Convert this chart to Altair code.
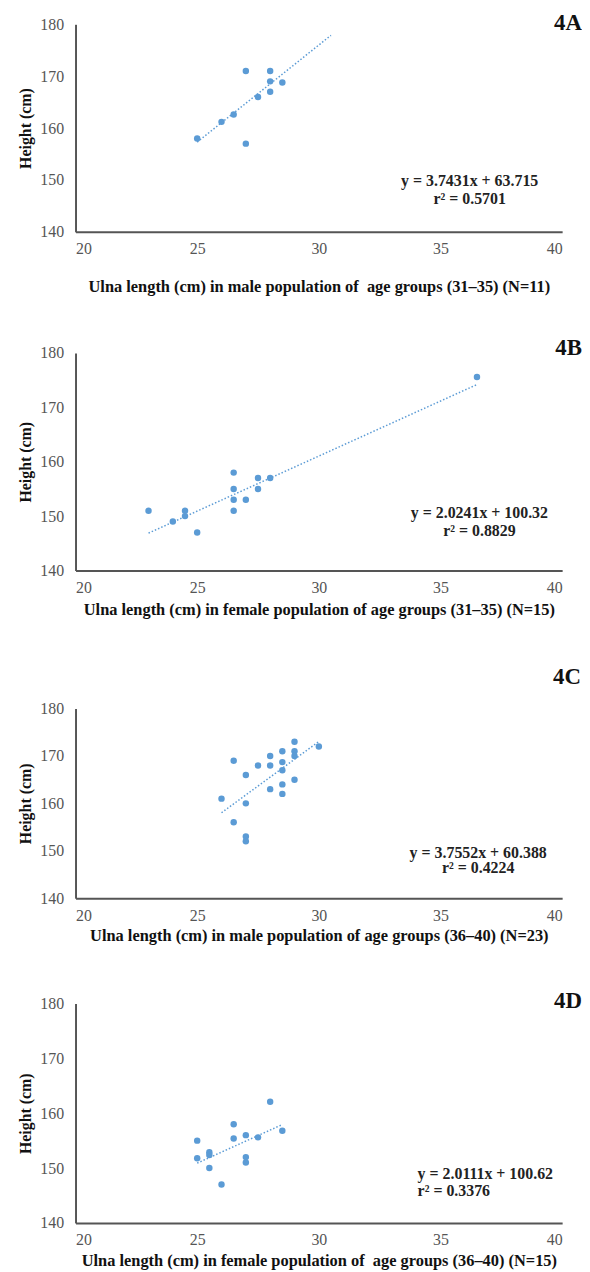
import altair as alt
import pandas as pd

# ---- data ----
A_x = [25, 26, 26.5, 27, 27, 27.5, 28, 28, 28, 28.5]
A_y = [158, 161.2, 162.6, 171, 157, 166, 171, 169, 167, 168.8]

B_x = [23, 24, 24.5, 24.5, 25, 26.5, 26.5, 26.5, 26.5, 27, 27.5, 27.5, 28, 36.5]
B_y = [151, 149, 151, 150, 147, 158, 155, 153, 151, 153, 157, 155, 157, 175.6]

C_x = [26, 26.5, 26.5, 27, 27, 27, 27, 27.5, 28, 28, 28, 28.5, 28.5, 28.5, 28.5, 28.5, 29, 29, 29, 29, 30]
C_y = [161, 169, 156, 166, 160, 153, 152, 168, 170, 168, 163, 171, 168.7, 167, 164, 162, 173, 171, 170, 165, 172]

D_x = [25, 25, 25.5, 25.5, 25.5, 26, 26.5, 26.5, 27, 27, 27, 27.5, 28, 28.5]
D_y = [155, 151.8, 152.9, 152.4, 150, 147, 158, 155.4, 156, 152, 151, 155.6, 162.1, 156.8]

slopes = [3.7431, 2.0241, 3.7552, 2.0111]
intercepts = [63.715, 100.32, 60.388, 100.62]
trend_from = [25, 23, 26, 25]
trend_to = [30.5, 36.5, 30, 28.5]
equations = ["y = 3.7431x + 63.715", "y = 2.0241x + 100.32", "y = 3.7552x + 60.388", "y = 2.0111x + 100.62"]
r2_texts = ["r² = 0.5701", "r² = 0.8829", "r² = 0.4224", "r² = 0.3376"]
titles = [
    "Ulna length (cm) in male population of\u00a0 age groups (31\u201335) (N=11)",
    "Ulna length (cm) in female population of age groups (31\u201335) (N=15)",
    "Ulna length (cm) in male population of age groups (36\u201340) (N=23)",
    "Ulna length (cm) in female population of\u00a0 age groups (36\u201340) (N=15)",
]
tags = ["4A", "4B", "4C", "4D"]
x_ticks = [20, 25, 30, 35, 40]
y_ticks = [140, 150, 160, 170, 180]

# layout: each panel block height, and the plot (axis) height inside it, at the block bottom
eq_pos = [(36.2, 149.8, 146.3, "center"), (36.6, 150.5, 147.3, "center"),
          (36.55, 149.5, 146.3, "center"), (34.06, 148.9, 145.8, "left")]
block_h = [209, 341, 330, 327]
plot_h = [209, 219, 191, 221]
tag_dy = [6, 2, -25, 5]          # tag baseline relative to plot top
tag_x = [510, 510, 509, 510]
xtitle_pad = [22, 6, 5, 5]

FONT = "Liberation Serif"
BLUE = "#5B9BD5"
W = 490


def panel(i, xs, ys):
    H = block_h[i]
    top = H - plot_h[i]
    pts = pd.DataFrame({"x": xs, "y": ys})
    xsc = alt.Scale(domain=[20, 40], nice=False, zero=False)
    ysc = alt.Scale(domain=[140, 180], nice=False, zero=False, range=[H, top])
    xax = alt.Axis(values=x_ticks, title=titles[i], titlePadding=xtitle_pad[i])
    yax = alt.Axis(values=y_ticks, title="Height (cm)")
    points = alt.Chart(pts).mark_circle(size=42, opacity=1, color=BLUE).encode(
        x=alt.X("x:Q", scale=xsc, axis=xax),
        y=alt.Y("y:Q", scale=ysc, axis=yax),
    )
    x0, x1 = trend_from[i], trend_to[i]
    tl = pd.DataFrame({"x": [x0, x1],
                       "y": [slopes[i] * x0 + intercepts[i], slopes[i] * x1 + intercepts[i]]})
    line = alt.Chart(tl).mark_line(color=BLUE, strokeWidth=1.5, strokeDash=[1.5, 2]).encode(
        x=alt.X("x:Q", scale=xsc), y=alt.Y("y:Q", scale=ysc))
    ex, ey1, ey2, al = eq_pos[i]
    eq = pd.DataFrame({"x": [ex, ex], "y": [ey1, ey2], "t": [equations[i], r2_texts[i]]})
    eqt = alt.Chart(eq).mark_text(font=FONT, fontSize=16, fontWeight="bold", color="#222",
                                  align=al, baseline="middle").encode(
        x=alt.X("x:Q", scale=xsc), y=alt.Y("y:Q", scale=ysc), text="t:N")
    tag = alt.Chart(pd.DataFrame({"t": [tags[i]]})).mark_text(
        font=FONT, fontSize=23, fontWeight="bold", color="#111", align="right",
        baseline="alphabetic").encode(x=alt.value(tag_x[i]), y=alt.value(top + tag_dy[i]), text="t:N")
    return alt.layer(line, points, eqt, tag).properties(width=W, height=H)


pA = panel(0, A_x, A_y)
pB = panel(1, B_x, B_y)
pC = panel(2, C_x, C_y)
pD = panel(3, D_x, D_y)

chart = alt.VConcatChart(vconcat=[pA, pB, pC, pD], spacing=0, bounds="flush").properties(
    padding={"left": 10, "top": 0, "right": 0, "bottom": 0}
).configure_view(stroke=None).configure_axis(
    domainColor="#555", domainWidth=2, ticks=False, grid=False,
    labelFont=FONT, labelFontSize=16, labelColor="#555",
    titleFont=FONT, titleFontSize=16, titleFontWeight="bold", titleColor="#111",
).configure_axisX(labelPadding=9, titleFontSize=16.5).configure_axisY(labelPadding=12, titlePadding=6)

chart.save("out.html", embed_options={"renderer": "svg", "actions": False})
